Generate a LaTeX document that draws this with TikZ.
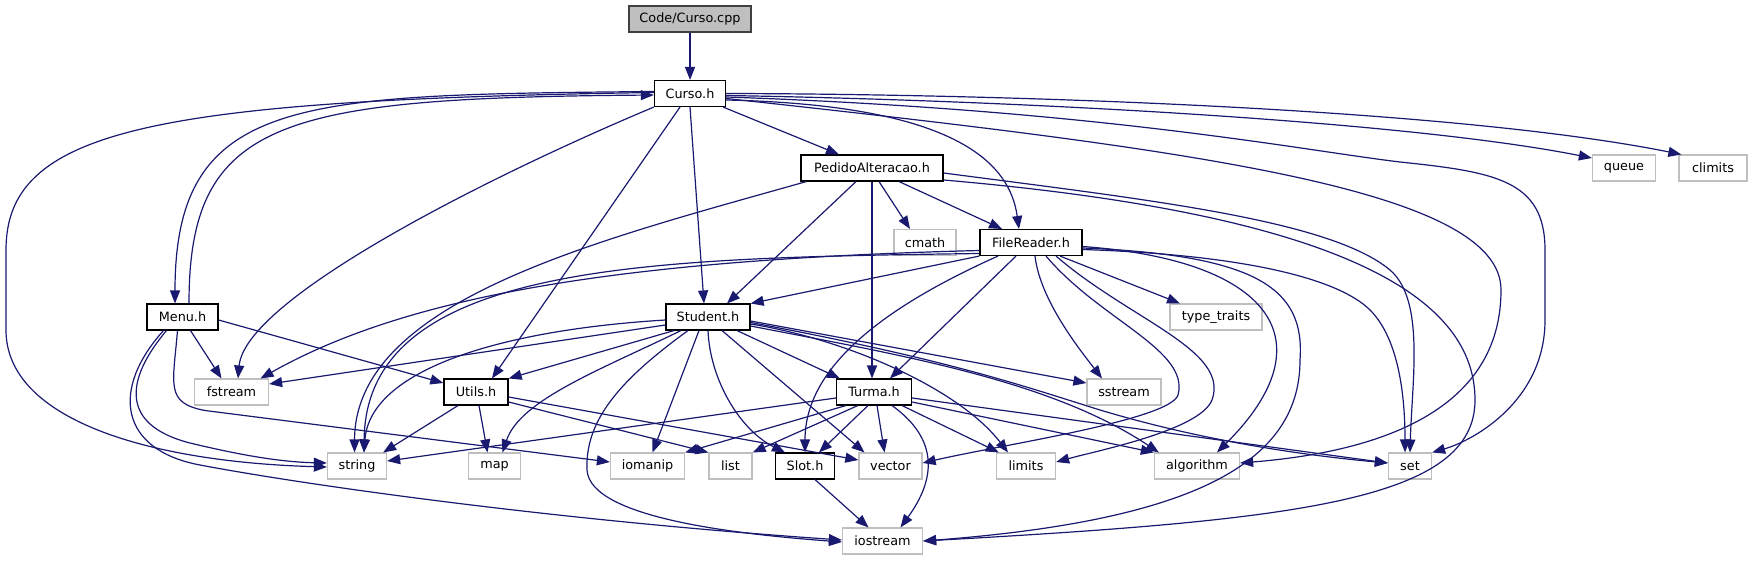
\documentclass[tikz,border=0pt]{standalone}
\usepackage{fontspec}
\setmainfont{DejaVu Sans}
\usetikzlibrary{arrows.meta}
\definecolor{edgecol}{HTML}{191970}
\definecolor{sysgray}{HTML}{BFBFBF}
\definecolor{maingray}{HTML}{BFBFBF}
\begin{document}
\begin{tikzpicture}[x=1pt,y=-1pt,
  box/.style={rectangle, draw=black, fill=white, line width=1.3pt, minimum height=25.8pt, inner sep=0pt, font=\fontsize{12.8}{14}\selectfont},
  sys/.style={box, draw=sysgray},
  dep/.style={draw=edgecol, line width=1.2pt, -{Triangle[length=13pt,width=10pt]}}]
\useasboundingbox (0,0) rectangle (1752,560);
% nodes
\node[box, fill=maingray, draw=black!75, minimum width=122pt] (cpp) at (690,19) {Code/Curso.cpp};
\node[box, minimum width=71pt] (curso) at (690,93.5) {Curso.h};
\node[box, minimum width=142pt] (pedido) at (872,168) {PedidoAlteracao.h};
\node[sys, minimum width=63pt] (queue) at (1624,168) {queue};
\node[sys, minimum width=68pt] (climits) at (1713,168) {climits};
\node[sys, minimum width=62pt] (cmath) at (925,242.5) {cmath};
\node[box, minimum width=102pt] (filereader) at (1031,242.5) {FileReader.h};
\node[box, minimum width=71pt] (menu) at (182.5,317) {Menu.h};
\node[box, minimum width=84pt] (student) at (708,317) {Student.h};
\node[sys, minimum width=92pt] (typetraits) at (1216,317) {type\_traits};
\node[sys, minimum width=74pt] (fstream) at (231.5,392) {fstream};
\node[box, minimum width=64pt] (utils) at (476,392) {Utils.h};
\node[box, minimum width=75pt] (turma) at (874,392) {Turma.h};
\node[sys, minimum width=74pt] (sstream) at (1124,392) {sstream};
\node[sys, minimum width=59pt] (string) at (357,466) {string};
\node[sys, minimum width=52pt] (map) at (494.5,466) {map};
\node[sys, minimum width=74pt] (iomanip) at (647.5,466) {iomanip};
\node[sys, minimum width=43pt] (list) at (730.5,466) {list};
\node[box, minimum width=59pt] (slot) at (805,466) {Slot.h};
\node[sys, minimum width=63pt] (vector) at (890.5,466) {vector};
\node[sys, minimum width=59pt] (limits) at (1026,466) {limits};
\node[sys, minimum width=85pt] (algorithm) at (1197,466) {algorithm};
\node[sys, minimum width=43pt] (set) at (1410,466) {set};
\node[sys, minimum width=80pt] (iostream) at (882.5,541) {iostream};
% Code/Curso.cpp
\draw[dep] (cpp) -- (curso);
% Curso.h
\draw[dep] (curso) -- (pedido);
\draw[dep] ([shift={(0,6.5)}]curso.east) .. controls (960,105) and (1010,165) .. ([shift={(-12,0)}]filereader.north);
\draw[dep] (curso.south) -- ([shift={(-4,0)}]student.north);
\draw[dep] ([shift={(-10,0)}]curso.south) -- ([shift={(16,0)}]utils.north);
\draw[dep] (curso.south west) .. controls (480,180) and (245,300) .. ([shift={(6.5,0)}]fstream.north);
\draw[dep] ([shift={(0,-2)}]curso.west) .. controls (300,95) and (175,95) .. ([shift={(-7.5,0)}]menu.north);
\draw[dep] ([shift={(0,-1)}]curso.west) .. controls (150,100) and (6,130) .. (6,250) -- (6,330) .. controls (6,420) and (150,462) .. ([shift={(0,1)}]string.west);
\draw[dep] ([shift={(0,2)}]curso.east) .. controls (1000,100) and (1400,120) .. ([shift={(0,-10)}]queue.west);
\draw[dep] (curso.east) .. controls (1000,94) and (1450,108) .. ([shift={(3,0)}]climits.north west);
\draw[dep] ([shift={(0,5)}]curso.east) .. controls (1200,150) and (1501,190) .. (1501,290) .. controls (1501,400) and (1400,450) .. ([shift={(0,-3)}]algorithm.east);
\draw[dep] ([shift={(0,3.5)}]curso.east) .. controls (1100,110) and (1300,150) .. (1400,162) .. controls (1495,172) and (1545,180) .. (1545,250) -- (1545,320) .. controls (1545,400) and (1475,440) .. (set.north east);
% Menu.h
\draw[dep] ([shift={(6.5,0)}]menu.north) .. controls (189,120) and (280,98) .. ([shift={(0,1.5)}]curso.west);
\draw[dep] ([shift={(8,0)}]menu.south) -- ([shift={(-10,0)}]fstream.north);
\draw[dep] ([shift={(0,3)}]menu.east) -- ([shift={(0,-9)}]utils.west);
\draw[dep] ([shift={(-5,0)}]menu.south) .. controls (173,385) and (165,403) .. (205,410.5) -- ([shift={(0,-4)}]iomanip.west);
\draw[dep] ([shift={(-16,0)}]menu.south) .. controls (125,380) and (120,425) .. (190,443) .. controls (240,455) and (280,462) .. ([shift={(0,-3)}]string.west);
\draw[dep] ([shift={(-19,0)}]menu.south) .. controls (110,390) and (120,450) .. (200,465) .. controls (300,484) and (550,520) .. ([shift={(0,-1)}]iostream.west);
% PedidoAlteracao.h
\draw[dep] ([shift={(6,0)}]pedido.south west) .. controls (600,240) and (355,300) .. ([shift={(-2.5,0)}]string.north);
\draw[dep] ([shift={(-16,0)}]pedido.south) -- ([shift={(19,0)}]student.north);
\draw[dep] (pedido.south) -- ([shift={(-2,0)}]turma.north);
\draw[dep] ([shift={(7,0)}]pedido.south) -- ([shift={(-15,0)}]cmath.north);
\draw[dep] ([shift={(27,0)}]pedido.south) -- ([shift={(-29,0)}]filereader.north);
\draw[dep] ([shift={(0,5)}]pedido.east) .. controls (1150,200) and (1330,220) .. (1390,270) .. controls (1425,300) and (1412,380) .. (set.north);
\draw[dep] ([shift={(0,12)}]pedido.east) .. controls (1350,215) and (1475,300) .. (1475,400) .. controls (1475,500) and (1300,520) .. (iostream.east);
% FileReader.h
\draw[dep] (filereader.south west) -- (student.north east);
\draw[dep] ([shift={(0,8)}]filereader.west) .. controls (600,260) and (400,300) .. ([shift={(29,0)}]fstream.north);
\draw[dep] ([shift={(0,11)}]filereader.west) .. controls (650,258) and (366,262) .. ([shift={(7,0)}]string.north);
\draw[dep] ([shift={(-15,0)}]filereader.south) -- ([shift={(16,0)}]turma.north);
\draw[dep] ([shift={(-33,0)}]filereader.south) .. controls (900,300) and (805,360) .. (slot.north);
\draw[dep] ([shift={(29,0)}]filereader.south) -- ([shift={(-36,0)}]typetraits.north);
\draw[dep] ([shift={(4,0)}]filereader.south) .. controls (1040,300) and (1080,350) .. ([shift={(-22,0)}]sstream.north);
\draw[dep] ([shift={(15,0)}]filereader.south) .. controls (1100,320) and (1190,350) .. (1178,395) .. controls (1170,420) and (1000,445) .. ([shift={(0,-3)}]vector.east);
\draw[dep] ([shift={(25,0)}]filereader.south) .. controls (1130,320) and (1230,350) .. (1212,400) .. controls (1200,430) and (1100,450) .. ([shift={(0,-4)}]limits.east);
\draw[dep] ([shift={(0,4)}]filereader.east) .. controls (1270,260) and (1330,340) .. ([shift={(20,0)}]algorithm.north);
\draw[dep] ([shift={(0,5.5)}]filereader.east) .. controls (1260,255) and (1305,290) .. (1300,360) .. controls (1300,460) and (1200,520) .. (iostream.east);
\draw[dep] ([shift={(0,7)}]filereader.east) .. controls (1250,255) and (1340,280) .. (1370,310) .. controls (1400,340) and (1405,400) .. ([shift={(-5,0)}]set.north);
% Student.h
\draw[dep] ([shift={(0,8)}]student.west) -- ([shift={(0,-8)}]fstream.east);
\draw[dep] ([shift={(0,3)}]student.west) .. controls (500,330) and (370,370) .. ([shift={(7,0)}]string.north);
\draw[dep] ([shift={(-34,0)}]student.south) -- (utils.north east);
\draw[dep] ([shift={(-27,0)}]student.south) .. controls (600,370) and (520,400) .. ([shift={(8,0)}]map.north);
\draw[dep] ([shift={(-9,0)}]student.south) -- ([shift={(5,0)}]iomanip.north);
\draw[dep] ([shift={(-20,0)}]student.south) .. controls (620,380) and (585,420) .. (587,470) .. controls (590,520) and (750,535) .. ([shift={(0,1)}]iostream.west);
\draw[dep] (student.south) .. controls (710,380) and (740,430) .. ([shift={(-20,0)}]slot.north);
\draw[dep] ([shift={(14,0)}]student.south) -- ([shift={(-26,0)}]vector.north);
\draw[dep] ([shift={(29,0)}]student.south) -- ([shift={(4,0)}]turma.north west);
\draw[dep] ([shift={(0,4)}]student.east) -- ([shift={(0,-9)}]sstream.west);
\draw[dep] ([shift={(0,7)}]student.east) .. controls (850,340) and (960,390) .. ([shift={(-18,0)}]limits.north);
\draw[dep] ([shift={(0,9)}]student.east) .. controls (900,355) and (1050,380) .. ([shift={(5,0)}]algorithm.north west);
\draw[dep] ([shift={(0,5.5)}]student.east) .. controls (950,360) and (1020,385) .. (1100,410) .. controls (1200,440) and (1300,455) .. ([shift={(0,-3)}]set.west);
% Turma.h
\draw[dep] ([shift={(0,6)}]turma.west) -- ([shift={(0,-5)}]string.east);
\draw[dep] ([shift={(10,0)}]turma.south west) -- (iomanip.north east);
\draw[dep] ([shift={(22,0)}]turma.south west) -- (list.north east);
\draw[dep] ([shift={(-6,0)}]turma.south) -- ([shift={(14,0)}]slot.north);
\draw[dep] ([shift={(3,0)}]turma.south) -- ([shift={(-6,0)}]vector.north);
\draw[dep] ([shift={(18,0)}]turma.south) .. controls (940,440) and (935,480) .. ([shift={(18,0)}]iostream.north);
\draw[dep] ([shift={(28,0)}]turma.south) -- ([shift={(3,0)}]limits.north west);
\draw[dep] ([shift={(0,10)}]turma.east) -- (algorithm.north west);
\draw[dep] ([shift={(0,6)}]turma.east) -- ([shift={(0,-3)}]set.west);
% Utils.h
\draw[dep] ([shift={(-18,0)}]utils.south) -- ([shift={(-4,0)}]string.north east);
\draw[dep] ([shift={(3,0)}]utils.south) -- ([shift={(-7,0)}]map.north);
\draw[dep] ([shift={(0,10)}]utils.east) -- (list.north west);
\draw[dep] ([shift={(0,5)}]utils.east) -- ([shift={(0,-6)}]vector.west);
% Slot.h
\draw[dep] ([shift={(10,0)}]slot.south) -- ([shift={(-14,0)}]iostream.north);
\end{tikzpicture}
\end{document}
